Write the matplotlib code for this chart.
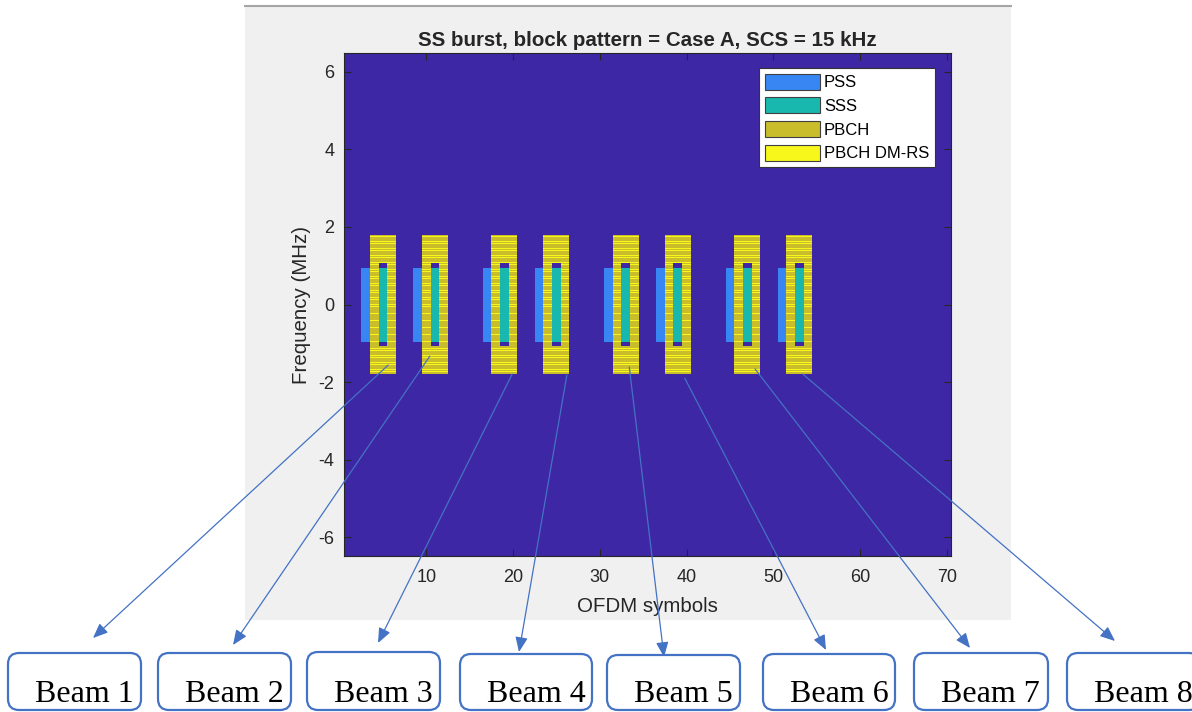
import numpy as np
import matplotlib.pyplot as plt
from matplotlib.colors import ListedColormap
from matplotlib.patches import Patch, Rectangle, FancyBboxPatch
from matplotlib.lines import Line2D
from matplotlib.transforms import IdentityTransform

plt.rcParams['font.family'] = ['Liberation Sans', 'DejaVu Sans']
plt.rcParams['axes.unicode_minus'] = False

# SS burst parameters (Case A, 15 kHz, 8 SS blocks in a 5 ms half frame)
scs_khz = 15
n_symbols = 70
n_subcarriers = 864
block_start_symbols = [2, 8, 16, 22, 30, 36, 44, 50]
ncell_id = 0
ssb_subcarriers = 240
pss_range = (56, 183)      # subcarriers used by PSS / SSS inside the block
pbch_edge = 48             # PBCH width at the SSS symbol (each side)

legend_labels = ['PSS', 'SSS', 'PBCH', 'PBCH DM-RS']
beam_labels = ['Beam 1', 'Beam 2', 'Beam 3', 'Beam 4',
               'Beam 5', 'Beam 6', 'Beam 7', 'Beam 8']
# where each beam arrow starts, in (symbol, MHz)
beam_tail_sym = [5.6, 10.4, 19.9, 26.2, 33.4, 39.8, 47.9, 53.4]
beam_tail_mhz = [-1.56, -1.33, -1.79, -1.82, -1.61, -1.90, -1.66, -1.79]

# build the resource grid: 0 empty, 1 PSS, 2 SSS, 3 PBCH, 4 PBCH DM-RS
grid = np.zeros((n_subcarriers, n_symbols))
k0 = (n_subcarriers - ssb_subcarriers) // 2
v = ncell_id % 4
for s in block_start_symbols:
    blk = np.zeros((ssb_subcarriers, 4))
    blk[pss_range[0]:pss_range[1], 0] = 1
    blk[:, 1] = 3
    blk[:, 3] = 3
    blk[:pbch_edge, 2] = 3
    blk[ssb_subcarriers - pbch_edge:, 2] = 3
    blk[pss_range[0]:pss_range[1], 2] = 2
    for l in (1, 2, 3):
        for k in range(v, ssb_subcarriers, 4):
            if blk[k, l] == 3:
                blk[k, l] = 4
    grid[k0:k0 + ssb_subcarriers, s:s + 4] = blk

f_half = n_subcarriers * scs_khz / 2 / 1000.0

colors = ['#3d27a4', '#3886f4', '#19b8ae', '#cabd2c', '#f7f71c']
cmap = ListedColormap(colors)

W, H = 1192, 712
fig = plt.figure(figsize=(W / 100, H / 100), dpi=100)
fig.patch.set_facecolor('white')

# grey figure panel behind the axes
fig.patches.append(Rectangle((245 / W, (H - 620) / H), (1011 - 245) / W, (620 - 6) / H,
                             transform=fig.transFigure, facecolor='#f0f0f0',
                             edgecolor='none', zorder=-3))
fig.lines.append(Line2D([245 / W, 1011 / W], [(H - 6) / H, (H - 6) / H],
                        transform=fig.transFigure, color='#a6a6a6', lw=1.5, zorder=-2))

ax = fig.add_axes([344 / W, (H - 556) / H, (951 - 344) / W, (556 - 53) / H])
ax.imshow(grid, origin='lower', cmap=cmap, vmin=-0.5, vmax=4.5, aspect='auto',
          extent=[0.5, n_symbols + 0.5, -f_half, f_half], interpolation='nearest')
ax.set_xlim(0.5, n_symbols + 0.5)
ax.set_ylim(-f_half, f_half)
ax.set_xticks(range(10, 71, 10))
ax.set_yticks(range(-6, 7, 2))
txt = '#262626'
ax.tick_params(direction='in', length=5, width=0.8, color=txt, top=True, right=True,
               labelsize=13, labelcolor=txt)
ax.tick_params(axis='x', pad=9)
ax.tick_params(axis='y', pad=7)
for sp in ax.spines.values():
    sp.set_color(txt)
    sp.set_linewidth(0.8)

ax.set_title('SS burst, block pattern = Case A, SCS = 15 kHz', fontsize=14.8,
             fontweight='bold', color=txt, pad=5)
ax.set_xlabel('OFDM symbols', fontsize=14.8, color=txt)
ax.xaxis.set_label_coords(0.5, -(606 - 556) / 503)
ax.xaxis.label.set_verticalalignment('center')
ax.set_ylabel('Frequency (MHz)', fontsize=14.8, color=txt)
ax.yaxis.set_label_coords(-(344 - 301) / 607, 0.5)
ax.yaxis.label.set_verticalalignment('center')

handles = [Patch(facecolor=c, edgecolor='#404040', lw=0.8, label=lab)
           for c, lab in zip(colors[1:], legend_labels)]
leg = ax.legend(handles=handles, loc='upper right', bbox_to_anchor=(935 / W, (H - 68) / H),
                bbox_transform=fig.transFigure, fontsize=12, fancybox=False,
                framealpha=1, edgecolor='#333333', borderaxespad=0, handlelength=3.3,
                handleheight=1.1, handletextpad=0.25, labelspacing=0.42, borderpad=0.35)
leg.get_frame().set_linewidth(0.8)

# beam boxes along the bottom
beam_blue = '#4472c4'
box_left = [8, 158, 307, 460, 607, 763, 914, 1067]
box_right = [141, 291, 440, 592, 740, 895, 1048, 1200]
box_top = [653, 653, 652, 654, 655, 654, 653, 653]
arrow_head_x = [93, 233, 378, 519, 664, 826, 970, 1115]
arrow_head_y = [638, 645, 643, 652, 657, 650, 648, 641]

for i, lab in enumerate(beam_labels):
    bx = FancyBboxPatch((box_left[i], 2), box_right[i] - box_left[i], H - box_top[i] - 2,
                        boxstyle='round,pad=0,rounding_size=11', transform=IdentityTransform(),
                        facecolor='white', edgecolor=beam_blue, lw=1.6, zorder=3)
    fig.patches.append(bx)
    fig.text((box_left[i] + 27) / W, 10 / H, lab, fontsize=23, family='Liberation Serif',
             color='black', va='baseline', ha='left', zorder=4)
    ax.annotate('', xy=(arrow_head_x[i], H - arrow_head_y[i]), xycoords='figure pixels',
                xytext=(beam_tail_sym[i], beam_tail_mhz[i]), textcoords='data',
                annotation_clip=False, zorder=5,
                arrowprops=dict(arrowstyle='-|>,head_length=0.6,head_width=0.25',
                                mutation_scale=15, color=beam_blue, lw=0.9,
                                shrinkA=0, shrinkB=0))

fig.savefig('out.png', dpi=100)
